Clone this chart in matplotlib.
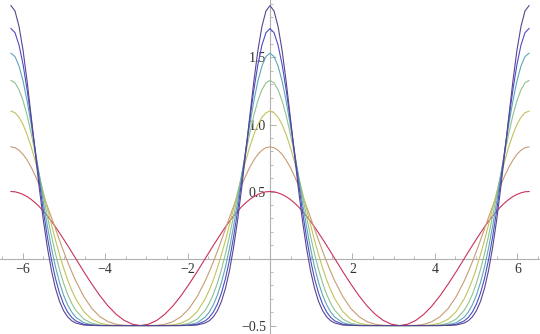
import numpy as np
import matplotlib
matplotlib.use("Agg")
import matplotlib.pyplot as plt
from matplotlib.ticker import FixedLocator, FixedFormatter, MultipleLocator

# values for one half period (peak at x=0 -> trough at x=pi)
x_half = [0.000, 0.098, 0.196, 0.295, 0.393, 0.491, 0.589, 0.687, 0.785, 0.884,
          0.982, 1.080, 1.178, 1.276, 1.374, 1.473, 1.571, 1.767, 1.963, 2.160,
          2.356, 2.553, 2.749, 2.945, 3.142]

y1 = [0.500, 0.498, 0.490, 0.478, 0.462, 0.441, 0.416, 0.387, 0.354, 0.317,
      0.278, 0.236, 0.191, 0.145, 0.098, 0.049, 0.000, -0.098, -0.191, -0.278,
      -0.354, -0.416, -0.462, -0.490, -0.500]
y2 = [0.833, 0.827, 0.808, 0.777, 0.734, 0.681, 0.618, 0.548, 0.471, 0.390,
      0.307, 0.222, 0.137, 0.055, -0.024, -0.098, -0.167, -0.284, -0.373, -0.434,
      -0.471, -0.491, -0.498, -0.500, -0.500]
y3 = [1.100, 1.088, 1.054, 0.999, 0.924, 0.833, 0.729, 0.615, 0.495, 0.373,
      0.253, 0.137, 0.029, -0.070, -0.159, -0.235, -0.300, -0.396, -0.453, -0.482,
      -0.495, -0.499, -0.500, -0.500, -0.500]
y4 = [1.329, 1.311, 1.259, 1.176, 1.066, 0.934, 0.786, 0.629, 0.471, 0.315,
      0.169, 0.036, -0.082, -0.183, -0.267, -0.334, -0.386, -0.452, -0.483, -0.496,
      -0.499, -0.500, -0.500, -0.500, -0.500]
y5 = [1.532, 1.507, 1.436, 1.322, 1.173, 0.999, 0.808, 0.612, 0.421, 0.240,
      0.078, -0.062, -0.179, -0.273, -0.345, -0.399, -0.437, -0.479, -0.494, -0.499,
      -0.500, -0.500, -0.500, -0.500, -0.500]
y6 = [1.716, 1.685, 1.592, 1.445, 1.256, 1.038, 0.807, 0.576, 0.357, 0.160,
      -0.009, -0.149, -0.258, -0.340, -0.399, -0.439, -0.465, -0.491, -0.498, -0.500,
      -0.500, -0.500, -0.500, -0.500, -0.500]
y7 = [1.887, 1.847, 1.731, 1.550, 1.319, 1.059, 0.789, 0.527, 0.288, 0.081,
      -0.089, -0.222, -0.320, -0.389, -0.435, -0.464, -0.481, -0.496, -0.499, -0.500,
      -0.500, -0.500, -0.500, -0.500, -0.500]

curves = [y1, y2, y3, y4, y5, y6, y7]
colors = ['#c83258', '#c89c74', '#c2c25c', '#90c290', '#5ca8b8', '#4c4cc8', '#58468e']

xticks = [-6, -4, -2, 2, 4, 6]
xticklabels = ['\u22126', '\u22124', '\u22122', '2', '4', '6']
yticks = [-0.5, 0.5, 1.0, 1.5]
yticklabels = ['\u22120.5', '0.5', '1.0', '1.5']


def full_period(xh, yh):
    # the plot is symmetric: mirror the half period across peaks and troughs
    xh = np.asarray(xh)
    yh = np.asarray(yh)
    p = 2 * xh[-1]
    xs = np.concatenate([-p + xh, -xh[::-1][1:], xh[1:], p - xh[::-1][1:]])
    ys = np.concatenate([yh, yh[::-1][1:], yh[1:], yh[::-1][1:]])
    return xs, ys


fig = plt.figure(figsize=(5.4, 3.34), dpi=100)
ax = fig.add_axes([0, 0, 1, 1])

for yh, c in zip(curves, colors):
    xs, ys = full_period(x_half, yh)
    ax.plot(xs, ys, color=c, lw=0.8, solid_joinstyle='round')

ax.set_xlim(-6.55, 6.55)
ax.set_ylim(-0.563, 1.929)

for s in ['top', 'right']:
    ax.spines[s].set_visible(False)
ax.spines['left'].set_position(('data', 0))
ax.spines['bottom'].set_position(('data', 0))
for s in ['left', 'bottom']:
    ax.spines[s].set_color('#b0b0b0')
    ax.spines[s].set_linewidth(0.8)
    ax.spines[s].set_zorder(0)

ax.xaxis.set_major_locator(FixedLocator(xticks))
ax.xaxis.set_major_formatter(FixedFormatter(xticklabels))
ax.xaxis.set_minor_locator(MultipleLocator(0.5))
ax.yaxis.set_major_locator(FixedLocator(yticks))
ax.yaxis.set_major_formatter(FixedFormatter(yticklabels))
ax.yaxis.set_minor_locator(MultipleLocator(0.1))

ax.tick_params(which='major', direction='in', length=4, width=0.7, color='#b0b0b0',
               labelsize=10, labelcolor='#333333', pad=3)
ax.tick_params(which='minor', direction='in', length=2.5, width=0.6, color='#b0b0b0')
for lab in ax.get_xticklabels() + ax.get_yticklabels():
    lab.set_fontfamily('Liberation Serif')

fig.savefig('out.png', dpi=100)
